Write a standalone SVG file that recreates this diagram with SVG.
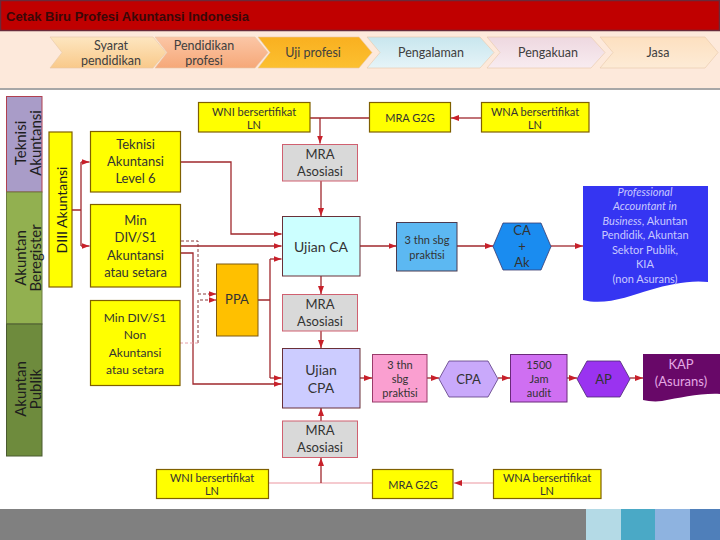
<svg xmlns="http://www.w3.org/2000/svg" width="720" height="540" viewBox="0 0 720 540">
<defs>
<style>
text{font-family:Lato,"Open Sans","Liberation Sans",sans-serif;fill:#333;text-anchor:middle;dominant-baseline:central}
.c{fill:none;stroke:#a0282d;stroke-width:1.3}
.cp{fill:none;stroke:#f2b8bf;stroke-width:1.3}
.d{fill:none;stroke:#8a3a3a;stroke-width:1;stroke-dasharray:3,2}
.dp{fill:none;stroke:#e8a0aa;stroke-width:1;stroke-dasharray:3,2}
.y{fill:#ffff00;stroke:#7f6000;stroke-width:1.2}
.g{fill:#d9d9d9;stroke:#d06070;stroke-width:1}
.lab{font-size:15px;fill:#1e1e1e}
.t13{font-size:13px}
.t12{font-size:12px}
.t11{font-size:11px}
.chev{stroke:#e8c8a8;stroke-width:0.6}
.ct{font-size:12.5px;fill:#404040}
</style>
<marker id="a" viewBox="0 0 8 6" refX="8" refY="3" markerWidth="8" markerHeight="6" markerUnits="userSpaceOnUse" orient="auto">
<path d="M0,0 L8,3 L0,6 Z" fill="#c8202a"/>
</marker>
<linearGradient id="g1" x1="0" y1="0" x2="0" y2="1"><stop offset="0" stop-color="#fde6c0"/><stop offset="1" stop-color="#f9c98a"/></linearGradient>
<linearGradient id="g2" x1="0" y1="0" x2="0" y2="1"><stop offset="0" stop-color="#fbc6a6"/><stop offset="1" stop-color="#f6a878"/></linearGradient>
<linearGradient id="g3" x1="0" y1="0" x2="0" y2="1"><stop offset="0" stop-color="#f9b020"/><stop offset="1" stop-color="#fcc030"/></linearGradient>
<linearGradient id="g4" x1="0" y1="0" x2="0" y2="1"><stop offset="0" stop-color="#c8e6ee"/><stop offset="1" stop-color="#e6f4f8"/></linearGradient>
<linearGradient id="g5" x1="0" y1="0" x2="0" y2="1"><stop offset="0" stop-color="#eed8e0"/><stop offset="1" stop-color="#f8ecf0"/></linearGradient>
<linearGradient id="g6" x1="0" y1="0" x2="0" y2="1"><stop offset="0" stop-color="#fde0c0"/><stop offset="1" stop-color="#fdebd6"/></linearGradient>
</defs>
<rect width="720" height="540" fill="#ffffff"/>
<!-- header -->
<g id="header">
<rect x="0" y="30" width="720" height="58" fill="#fde9db"/>
<rect x="0.5" y="0.5" width="719" height="30" fill="#c00000" stroke="#6a2a3a" stroke-width="1.5"/>
<text x="6" y="16" style="text-anchor:start;font-family:'Liberation Sans',Arial,sans-serif;font-weight:bold;font-size:13px;fill:#3a0808">Cetak Biru Profesi Akuntansi Indonesia</text>
<line x1="0" y1="89" x2="720" y2="89" stroke="#8a8a8a" stroke-width="1.5"/>
</g>
<g id="chevrons">
<polygon class="chev" points="50,37 153,37 166,52.5 153,68 50,68 62,52.5" fill="url(#g1)"/>
<text class="ct" x="111" y="45">Syarat</text><text class="ct" x="111" y="60">pendidikan</text>
<polygon class="chev" points="155,37 255,37 268,52.5 255,68 155,68 167,52.5" fill="url(#g2)"/>
<text class="ct" x="204" y="45">Pendidikan</text><text class="ct" x="204" y="60">profesi</text>
<polygon class="chev" points="258,37 359,37 372,52.5 359,68 258,68 270,52.5" fill="url(#g3)"/>
<text class="ct" x="313" y="52">Uji profesi</text>
<polygon class="chev" points="367,37 480,37 494,52.5 480,68 367,68 380,52.5" fill="url(#g4)"/>
<text class="ct" x="431" y="52">Pengalaman</text>
<polygon class="chev" points="487,37 591,37 605,52.5 591,68 487,68 500,52.5" fill="url(#g5)"/>
<text class="ct" x="548" y="52">Pengakuan</text>
<polygon class="chev" points="600,37 705,37 718,52.5 705,68 600,68 613,52.5" fill="url(#g6)"/>
<text class="ct" x="658" y="52">Jasa</text>
</g>
<!-- left labels -->
<g id="lbl-teknisi">
<rect x="6.5" y="96.5" width="35.5" height="95.5" fill="#a99cc8" stroke="#b04050" stroke-width="1"/>
<text class="lab" transform="translate(20,143) rotate(-90)">Teknisi</text>
<text class="lab" transform="translate(35,143) rotate(-90)">Akuntansi</text>
</g>
<g id="lbl-beregister">
<rect x="6.5" y="192" width="35.5" height="132" fill="#92b050" stroke="#6a7a40" stroke-width="1"/>
<text class="lab" transform="translate(20,258) rotate(-90)">Akuntan</text>
<text class="lab" transform="translate(35,258) rotate(-90)">Beregister</text>
</g>
<g id="lbl-publik">
<rect x="6.5" y="324" width="35.5" height="132" fill="#6e8b3d" stroke="#4a5a30" stroke-width="1"/>
<text class="lab" transform="translate(20,389) rotate(-90)">Akuntan</text>
<text class="lab" transform="translate(35,389) rotate(-90)">Publik</text>
</g>
<g id="diii">
<rect class="y" x="49" y="132" width="23" height="155"/>
<text class="lab" style="font-size:14px" transform="translate(61,210) rotate(-90)">DIII Akuntansi</text>
</g>
<!-- connectors -->
<g id="connectors">
<path class="c" d="M72,210 H81 M81,162 V246"/>
<path class="c" d="M81,162 H89.5" marker-end="url(#a)"/>
<path class="c" d="M81,246 H89.5" marker-end="url(#a)"/>
<path class="c" d="M181,162 H231 V234 H281.5" marker-end="url(#a)"/>
<path class="c" d="M181,246 H281.5" marker-end="url(#a)"/>
<path class="c" d="M181,253 H193 V384 H281.5" marker-end="url(#a)"/>
<path class="c" d="M258,300 H270 M270,259 V378"/>
<path class="c" d="M270,259 H281.5" marker-end="url(#a)"/>
<path class="c" d="M270,378 H281.5" marker-end="url(#a)"/>
<path class="d" d="M181,241 H198 V294 H216.5" marker-end="url(#a)"/>
<path class="d" d="M198,343 V300 H216.5" marker-end="url(#a)"/>
<path class="dp" d="M180,343 H198"/>
<path class="c" d="M310,118 H370"/>
<path class="c" d="M481,118 H451" marker-end="url(#a)"/>
<path class="c" d="M320,118 V143.5" marker-end="url(#a)"/>
<path class="c" d="M321,181 V216" marker-end="url(#a)"/>
<path class="c" d="M321,276 V294" marker-end="url(#a)"/>
<path class="c" d="M321,331 V348" marker-end="url(#a)"/>
<path class="c" d="M321,421 V408" marker-end="url(#a)"/>
<path class="cp" d="M269,483 H372"/>
<path class="c" d="M321,483 V458" marker-end="url(#a)"/>
<path class="cp" d="M493,483 H454" marker-end="url(#a)"/>
<path class="c" d="M360,246 H396.5" marker-end="url(#a)"/>
<path class="c" d="M457,246 H493" marker-end="url(#a)"/>
<path class="c" d="M551,246 H583" marker-end="url(#a)"/>
<path class="c" d="M360,378 H372" marker-end="url(#a)"/>
<path class="c" d="M427,378 H439" marker-end="url(#a)"/>
<path class="c" d="M498,378 H510" marker-end="url(#a)"/>
<path class="c" d="M567,378 H577" marker-end="url(#a)"/>
<path class="c" d="M630,378 H643" marker-end="url(#a)"/>
</g>
<!-- yellow education nodes -->
<g id="teknisi6">
<rect class="y" x="90.5" y="131.5" width="90" height="60.5"/>
<text class="t13" x="135.5" y="144">Teknisi</text>
<text class="t13" x="135.5" y="161">Akuntansi</text>
<text class="t13" x="135.5" y="178">Level 6</text>
</g>
<g id="mindiv-ak">
<rect class="y" x="90.5" y="204.5" width="90" height="82.5"/>
<text class="t13" x="135.5" y="220">Min</text>
<text class="t13" x="135.5" y="237">DIV/S1</text>
<text class="t13" x="135.5" y="254.5">Akuntansi</text>
<text class="t13" x="135.5" y="272">atau setara</text>
</g>
<g id="mindiv-non">
<rect class="y" x="90.5" y="300.5" width="89.5" height="85"/>
<text class="t12" x="135" y="317.5">Min DIV/S1</text>
<text class="t12" x="135" y="334.5">Non</text>
<text class="t12" x="135" y="352">Akuntansi</text>
<text class="t12" x="135" y="369">atau setara</text>
</g>
<g id="ppa">
<rect x="216.5" y="264" width="41.5" height="72" fill="#ffc000" stroke="#7f5a10" stroke-width="1"/>
<text class="t13" x="237" y="299">PPA</text>
</g>
<!-- top row -->
<g id="wni-top">
<rect class="y" x="198.5" y="102.5" width="111.5" height="29.5"/>
<text class="t11" x="254" y="111">WNI bersertifikat</text>
<text class="t11" x="254" y="124">LN</text>
</g>
<g id="mra-g2g-top">
<rect class="y" x="369.5" y="102.5" width="81" height="29.5"/>
<text class="t11" x="410" y="117">MRA G2G</text>
</g>
<g id="wna-top">
<rect class="y" x="481.5" y="102.5" width="107.5" height="29.5"/>
<text class="t11" x="535" y="111">WNA bersertifikat</text>
<text class="t11" x="535" y="124">LN</text>
</g>
<g id="mra1">
<rect class="g" x="282.5" y="144.5" width="75" height="36.5"/>
<text class="t13" x="320" y="154">MRA</text>
<text class="t13" x="320" y="171">Asosiasi</text>
</g>
<g id="ujian-ca">
<rect x="282.5" y="216.5" width="77.5" height="59.5" fill="#ccffff" stroke="#6a3038" stroke-width="1"/>
<text style="font-size:14px" x="321" y="246">Ujian CA</text>
</g>
<g id="mra2">
<rect class="g" x="282.5" y="294.5" width="75" height="36.5"/>
<text class="t13" x="320" y="304">MRA</text>
<text class="t13" x="320" y="321">Asosiasi</text>
</g>
<g id="ujian-cpa">
<rect x="282.5" y="348.5" width="77.5" height="59.5" fill="#ccccff" stroke="#6a3038" stroke-width="1"/>
<text style="font-size:14px" x="321" y="369">Ujian</text>
<text style="font-size:14px" x="321" y="387">CPA</text>
</g>
<g id="mra3">
<rect class="g" x="282.5" y="421" width="75" height="36.5"/>
<text class="t13" x="320" y="430">MRA</text>
<text class="t13" x="320" y="447">Asosiasi</text>
</g>
<!-- bottom row -->
<g id="wni-bot">
<rect class="y" x="156.5" y="469.5" width="112" height="29"/>
<text class="t11" x="212" y="477">WNI bersertifikat</text>
<text class="t11" x="212" y="490">LN</text>
</g>
<g id="mra-g2g-bot">
<rect class="y" x="372.5" y="469.5" width="80.5" height="29"/>
<text class="t11" x="413" y="484">MRA G2G</text>
</g>
<g id="wna-bot">
<rect class="y" x="493.5" y="469.5" width="107.5" height="29"/>
<text class="t11" x="547" y="477">WNA bersertifikat</text>
<text class="t11" x="547" y="490">LN</text>
</g>
<!-- CA path -->
<g id="praktisi-ca">
<rect x="396.5" y="222.5" width="60.5" height="48.5" fill="#5cb8f2" stroke="#4a3a50" stroke-width="1"/>
<text class="t11" x="427" y="239">3 thn sbg</text>
<text class="t11" x="427" y="254">praktisi</text>
</g>
<g id="ca-ak">
<polygon points="493,246.5 503,223 541,223 551,246.5 541,270 503,270" fill="#1a8cf0" stroke="#3a3a70" stroke-width="0.8"/>
<text class="t13" x="522" y="230">CA</text>
<text class="t13" x="522" y="246">+</text>
<text class="t13" x="522" y="262">Ak</text>
</g>
<g id="pa">
<path d="M583,186 H708 V282 C690,280 670,284 650,290 C630,296 605,306 583,300 Z" fill="#3535f2"/>
<text class="t11" style="fill:#c8c8ff;font-style:italic" x="645" y="191">Professional</text>
<text class="t11" style="fill:#c8c8ff;font-style:italic" x="645" y="205.5">Accountant in</text>
<text class="t11" style="fill:#c8c8ff" x="645" y="220"><tspan style="font-style:italic">Business</tspan>, Akuntan</text>
<text class="t11" style="fill:#c8c8ff" x="645" y="234.5">Pendidik, Akuntan</text>
<text class="t11" style="fill:#c8c8ff" x="645" y="249">Sektor Publik,</text>
<text class="t11" style="fill:#c8c8ff" x="645" y="263.5">KIA</text>
<text class="t11" style="fill:#c8c8ff" x="645" y="278">(non Asurans)</text>
</g>
<!-- CPA path -->
<g id="praktisi-cpa">
<rect x="372.5" y="354.5" width="54.5" height="47.5" fill="#fa9fd0" stroke="#9a3a6a" stroke-width="1"/>
<text class="t11" x="400" y="364">3 thn</text>
<text class="t11" x="400" y="378">sbg</text>
<text class="t11" x="400" y="392">praktisi</text>
</g>
<g id="cpa">
<polygon points="439,379 449,361 488,361 498,379 488,397 449,397" fill="#c9a9fb" stroke="#5a3a80" stroke-width="0.8"/>
<text class="t13" x="468.5" y="379">CPA</text>
</g>
<g id="jam-audit">
<rect x="510.5" y="354.5" width="56.5" height="47.5" fill="#cf6ff2" stroke="#6a2a7a" stroke-width="1"/>
<text class="t11" x="539" y="364">1500</text>
<text class="t11" x="539" y="378">Jam</text>
<text class="t11" x="539" y="392">audit</text>
</g>
<g id="ap">
<polygon points="577,379 587,361 620,361 630,379 620,397 587,397" fill="#9a33f0" stroke="#4a2a70" stroke-width="0.8"/>
<text class="t13" x="603.5" y="379">AP</text>
</g>
<g id="kap">
<path d="M643,354 H720 V394 C700,393 680,398 662,401 C654,402 648,401 643,400 Z" fill="#680868"/>
<text class="t13" style="fill:#e4a8e4" x="681" y="364">KAP</text>
<text class="t13" style="fill:#e4a8e4" x="681" y="381">(Asurans)</text>
</g>
<!-- footer -->
<g id="footer">
<rect x="0" y="509" width="586" height="31" fill="#808080"/>
<rect x="586" y="509" width="35" height="31" fill="#b4dae6"/>
<rect x="621" y="509" width="34" height="31" fill="#4aa9c6"/>
<rect x="655" y="509" width="35" height="31" fill="#8eb3e0"/>
<rect x="690" y="509" width="30" height="31" fill="#4f7fba"/>
</g>
</svg>
